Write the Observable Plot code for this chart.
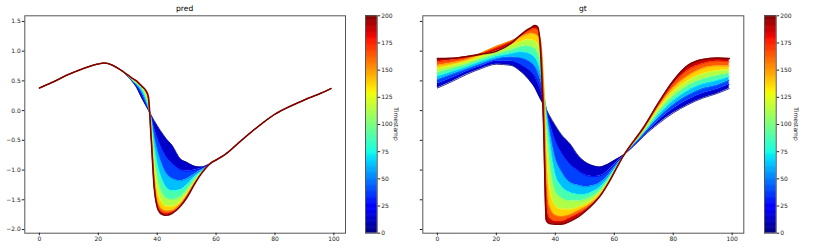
<!DOCTYPE html>
<html><head><meta charset="utf-8">
<script src="https://cdn.jsdelivr.net/npm/d3@7"></script>
<script src="https://cdn.jsdelivr.net/npm/@observablehq/plot@0.6"></script>
<style>
body{margin:0;background:#fff;}
#root{position:relative;width:830px;height:249px;overflow:hidden;font-family:"DejaVu Sans",sans-serif;}
.abs{position:absolute;}
.title{font-size:7.6px;line-height:7.6px;color:#000;transform:translateX(-50%);white-space:nowrap;}
.cblabel{font-size:6px;line-height:6px;color:#222;white-space:nowrap;transform:translate(-50%,-50%) rotate(90deg);}
</style></head><body><div id="root"></div>
<script>
// ---- data ----
const timestamps = [0, 25, 50, 75, 100, 125, 150, 175, 200];
const xTicks = [0, 20, 40, 60, 80, 100];
const yTicks = [-2.0, -1.5, -1.0, -0.5, 0.0, 0.5, 1.0, 1.5];
const cbTicks = [0, 25, 50, 75, 100, 125, 150, 175, 200];

const predX = [0,5,10,15,20,22,25,28,30,32,33,34,35,36,37,38,39,40,41,42,43,45,48,50,53,55,58,60,63,65,70,75,80,85,90,95,99];
const pred_t0   = [0.38,0.49,0.61,0.71,0.785,0.80,0.76,0.67,0.58,0.46,0.39,0.29,0.19,0.10,0.01,-0.08,-0.17,-0.25,-0.33,-0.40,-0.47,-0.58,-0.82,-0.87,-0.94,-0.95,-0.89,-0.83,-0.74,-0.66,-0.44,-0.24,-0.06,0.07,0.18,0.28,0.37];
const pred_t25  = [0.38,0.49,0.61,0.71,0.785,0.80,0.76,0.67,0.58,0.47,0.41,0.33,0.24,0.13,0.02,-0.10,-0.28,-0.44,-0.57,-0.68,-0.77,-0.88,-1.00,-1.02,-1.00,-0.97,-0.89,-0.83,-0.74,-0.66,-0.44,-0.24,-0.06,0.07,0.18,0.28,0.37];
const pred_t50  = [0.38,0.49,0.61,0.71,0.785,0.80,0.76,0.67,0.58,0.48,0.43,0.37,0.29,0.17,0.04,-0.12,-0.42,-0.65,-0.82,-0.95,-1.05,-1.14,-1.18,-1.15,-1.06,-1.00,-0.89,-0.83,-0.74,-0.66,-0.44,-0.24,-0.06,0.07,0.18,0.28,0.37];
const pred_t75  = [0.38,0.49,0.61,0.71,0.785,0.80,0.76,0.67,0.59,0.49,0.45,0.40,0.33,0.22,0.06,-0.16,-0.58,-0.88,-1.07,-1.20,-1.29,-1.35,-1.33,-1.26,-1.11,-1.02,-0.89,-0.83,-0.74,-0.66,-0.44,-0.24,-0.06,0.07,0.18,0.28,0.37];
const pred_t100 = [0.38,0.49,0.61,0.71,0.785,0.80,0.76,0.67,0.59,0.50,0.46,0.42,0.36,0.27,0.10,-0.22,-0.75,-1.10,-1.30,-1.41,-1.47,-1.50,-1.45,-1.35,-1.15,-1.04,-0.89,-0.83,-0.74,-0.66,-0.44,-0.24,-0.06,0.07,0.18,0.28,0.37];
const pred_t125 = [0.38,0.49,0.61,0.71,0.785,0.80,0.76,0.67,0.59,0.51,0.47,0.43,0.38,0.30,0.14,-0.30,-0.92,-1.30,-1.48,-1.57,-1.61,-1.61,-1.53,-1.40,-1.17,-1.05,-0.89,-0.83,-0.74,-0.66,-0.44,-0.24,-0.06,0.07,0.18,0.28,0.37];
const pred_t150 = [0.38,0.49,0.61,0.71,0.785,0.80,0.76,0.67,0.60,0.52,0.48,0.44,0.39,0.33,0.18,-0.38,-1.10,-1.48,-1.62,-1.67,-1.69,-1.68,-1.57,-1.43,-1.19,-1.05,-0.89,-0.83,-0.74,-0.66,-0.44,-0.24,-0.06,0.07,0.18,0.28,0.37];
const pred_t175 = [0.38,0.49,0.61,0.71,0.785,0.80,0.76,0.67,0.60,0.53,0.49,0.45,0.40,0.34,0.22,-0.45,-1.22,-1.57,-1.68,-1.72,-1.73,-1.71,-1.59,-1.45,-1.20,-1.06,-0.89,-0.83,-0.74,-0.66,-0.44,-0.24,-0.06,0.07,0.18,0.28,0.37];
const pred_t200 = [0.38,0.49,0.61,0.71,0.785,0.80,0.76,0.67,0.60,0.53,0.50,0.45,0.40,0.35,0.24,-0.50,-1.30,-1.62,-1.72,-1.75,-1.76,-1.73,-1.60,-1.47,-1.21,-1.06,-0.89,-0.83,-0.74,-0.66,-0.44,-0.24,-0.06,0.07,0.18,0.28,0.37];

const gtX = [0,5,10,15,20,25,28,30,32,33,34,35,36,37,38,40,42,45,48,50,53,55,58,60,63,65,68,70,75,80,85,90,95,99];
const gt_t0   = [0.38,0.49,0.61,0.71,0.78,0.76,0.67,0.58,0.46,0.39,0.29,0.19,0.10,0.01,-0.08,-0.25,-0.40,-0.56,-0.77,-0.86,-0.93,-0.95,-0.90,-0.84,-0.75,-0.67,-0.53,-0.43,-0.22,-0.04,0.10,0.21,0.29,0.37];
const gt_t25  = [0.45,0.55,0.66,0.75,0.83,0.83,0.78,0.72,0.64,0.58,0.48,0.35,0.20,0.02,-0.17,-0.50,-0.70,-0.90,-1.02,-1.08,-1.11,-1.10,-1.01,-0.91,-0.76,-0.66,-0.51,-0.41,-0.17,0.03,0.18,0.29,0.36,0.44];
const gt_t50  = [0.52,0.61,0.70,0.79,0.87,0.90,0.89,0.86,0.80,0.75,0.66,0.52,0.30,0.00,-0.30,-0.80,-1.02,-1.21,-1.26,-1.28,-1.26,-1.22,-1.09,-0.96,-0.77,-0.65,-0.50,-0.39,-0.12,0.10,0.26,0.37,0.43,0.51];
const gt_t75  = [0.58,0.66,0.74,0.83,0.91,0.96,0.99,0.98,0.94,0.90,0.82,0.67,0.38,-0.08,-0.50,-1.08,-1.27,-1.38,-1.41,-1.41,-1.36,-1.30,-1.14,-0.99,-0.77,-0.64,-0.48,-0.37,-0.07,0.17,0.34,0.45,0.51,0.57];
const gt_t100 = [0.64,0.71,0.78,0.87,0.95,1.02,1.07,1.09,1.07,1.04,0.97,0.82,0.40,-0.25,-0.80,-1.35,-1.47,-1.52,-1.52,-1.50,-1.43,-1.36,-1.17,-1.01,-0.77,-0.64,-0.47,-0.35,-0.02,0.24,0.42,0.53,0.59,0.63];
const gt_t125 = [0.70,0.76,0.82,0.91,1.01,1.09,1.15,1.19,1.19,1.17,1.12,1.00,0.50,-0.55,-1.25,-1.60,-1.66,-1.66,-1.62,-1.58,-1.49,-1.40,-1.19,-1.02,-0.77,-0.63,-0.46,-0.33,0.03,0.31,0.50,0.62,0.67,0.69];
const gt_t150 = [0.76,0.80,0.86,0.97,1.08,1.17,1.23,1.27,1.30,1.29,1.26,1.18,0.50,-1.00,-1.60,-1.76,-1.78,-1.75,-1.68,-1.63,-1.53,-1.43,-1.21,-1.03,-0.77,-0.63,-0.45,-0.31,0.07,0.38,0.58,0.71,0.75,0.75];
const gt_t175 = [0.82,0.85,0.89,0.96,1.05,1.16,1.25,1.32,1.37,1.38,1.36,1.16,0.20,-1.50,-1.80,-1.86,-1.86,-1.80,-1.73,-1.67,-1.55,-1.45,-1.22,-1.04,-0.77,-0.62,-0.43,-0.29,0.10,0.44,0.68,0.79,0.83,0.82];
const gt_t200 = [0.875,0.88,0.91,0.95,1.00,1.13,1.26,1.34,1.40,1.43,1.41,1.00,-0.20,-1.85,-1.90,-1.91,-1.91,-1.86,-1.78,-1.70,-1.56,-1.45,-1.22,-1.04,-0.77,-0.62,-0.42,-0.28,0.13,0.50,0.76,0.86,0.885,0.875];

const predCurves = [pred_t0,pred_t25,pred_t50,pred_t75,pred_t100,pred_t125,pred_t150,pred_t175,pred_t200];
const gtCurves = [gt_t0,gt_t25,gt_t50,gt_t75,gt_t100,gt_t125,gt_t150,gt_t175,gt_t200];

// ---- matplotlib "jet" colormap ----
function jet(t){
  t = Math.max(0, Math.min(1, t));
  const r = t<0.35?0 : t<0.66?(t-0.35)/0.31 : t<0.89?1 : 1-0.5*(t-0.89)/0.11;
  const g = t<0.125?0 : t<0.375?(t-0.125)/0.25 : t<0.64?1 : t<0.91?1-(t-0.64)/0.27 : 0;
  const b = t<0.11?0.5+0.5*t/0.11 : t<0.34?1 : t<0.65?1-(t-0.34)/0.31 : 0;
  return d3.rgb(r*255, g*255, b*255).formatHex();
}
const colorScale = {type:"linear", domain:[0,200], interpolate: jet};
const FRAME = "#555";
const TOP = 15.3, BOTTOM = 249 - 232.7;
const style = {fontFamily:"DejaVu Sans", fontSize:"6px", color:"#222", background:"transparent", overflow:"visible"};

function panel(xs, curves, width, mLeft, mRight, showYLabels){
  const bandRows = [];
  for (let b = 0; b < curves.length - 1; b++) {
    const tm = (timestamps[b] + timestamps[b+1]) / 2;
    xs.forEach((x, i) => bandRows.push({band:b, t:tm, x, y1:curves[b][i], y2:curves[b+1][i]}));
  }
  const lineRows = [];
  curves.forEach((c, k) => xs.forEach((x, i) => lineRows.push({t:timestamps[k], x, y:c[i]})));
  return Plot.plot({
    width, height:249, marginLeft:mLeft, marginRight:mRight, marginTop:TOP, marginBottom:BOTTOM,
    x:{domain:[-4.95, 103.95]}, y:{domain:[-2.062, 1.595]},
    color: colorScale, style,
    marks:[
      Plot.areaY(bandRows, {x:"x", y1:"y1", y2:"y2", z:"band", fill:"t", curve:"monotone-x", clip:true}),
      Plot.line(lineRows.filter(d => d.t < 200), {x:"x", y:"y", z:"t", stroke:"t", strokeWidth:0.8, curve:"monotone-x", clip:true}),
      Plot.line(lineRows.filter(d => d.t === 200), {x:"x", y:"y", stroke:"t", strokeWidth:1.6, curve:"monotone-x", clip:true}),
      Plot.frame({stroke:FRAME}),
      Plot.axisX({ticks:xTicks, tickSize:2.5, tickPadding:1.5, tickFormat:"d", label:null}),
      Plot.axisY({ticks:yTicks, tickSize:2.5, tickPadding:1.5, tickFormat: showYLabels ? d3.format(".1f") : () => "", label:null})
    ]
  });
}

function colorbar(){
  const steps = d3.range(0, 200, 0.5);
  return Plot.plot({
    width:50, height:249, marginLeft:7, marginRight:31.3, marginTop:TOP, marginBottom:BOTTOM,
    x:{domain:[0,1], axis:null}, y:{domain:[0,200]},
    color: colorScale, style,
    marks:[
      Plot.rect(steps, {x1:() => 0, x2:() => 1, y1:d => d, y2:d => Math.min(200, d + 1), fill:d => d + 0.25}),
      Plot.frame({stroke:FRAME}),
      Plot.axisY({anchor:"right", ticks:cbTicks, tickSize:2.5, tickPadding:1.5, label:null})
    ]
  });
}

const root = document.getElementById("root");
function place(node, left, top){ node.classList.add("abs"); node.style.left = left + "px"; node.style.top = top + "px"; root.appendChild(node); return node; }
function text(cls, str, left, top){ const d = document.createElement("div"); d.className = cls; d.textContent = str; return place(d, left, top); }

place(panel(predX, predCurves, 352, 24.3, 7, true), 0, 0);
place(colorbar(), 358, 0);
place(panel(gtX, gtCurves, 350, 22.3, 6.7, false), 400, 0);
place(colorbar(), 757, 0);
text("title", "pred", 184.7, 5.4);
text("title", "gt", 582.8, 5.4);
text("cblabel", "Timestamp", 395.5, 124);
text("cblabel", "Timestamp", 795.5, 124);
</script>
</body></html>
